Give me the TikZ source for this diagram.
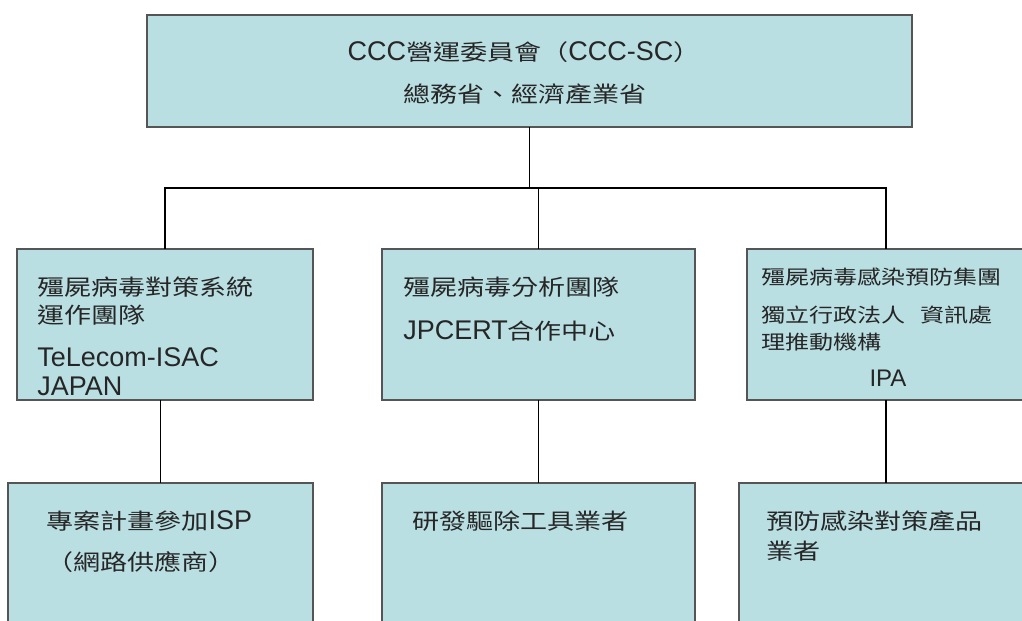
\documentclass[tikz,border=0pt]{standalone}
\usepackage{fontspec}
\setmainfont{Liberation Sans}
\newfontfamily\zhfont{Noto Sans CJK TC}[Scale=0.815,FakeStretch=1.23]
\newcommand{\zh}[1]{{\zhfont #1}}
\definecolor{orgfill}{RGB}{186,223,227}
\definecolor{orgedge}{RGB}{85,85,85}
\tikzset{
	orgbox/.style 2 args={draw=orgedge, line width=1.1pt, fill=orgfill, anchor=north west,
		inner sep=0pt, outer sep=0pt, minimum width=#1*0.75pt, minimum height=#2*0.75pt},
	link/.style={line width=0.8pt},
	txt/.style={anchor=west, inner sep=0pt, text=black!85, font=\fontsize{20.25}{24}\selectfont},
	smalltxt/.style={txt, font=\fontsize{18}{21}\selectfont}
}
\begin{document}
\begin{tikzpicture}[x=0.75pt,y=-0.75pt]
		\useasboundingbox (0,0) rectangle (1022,621);
		\clip (0,0) rectangle (1022,621);
		% boxes
		\node[orgbox={765}{112}] (sc) at (147,15) {};
		\node[orgbox={296}{151}] (bot) at (17,249) {};
		\node[orgbox={313}{151}] (ana) at (382,249) {};
		\node[orgbox={278}{151}] (ipa) at (747,249) {};
		\node[orgbox={305}{200}] (isp) at (8,483) {};
		\node[orgbox={313}{200}] (tool) at (382,483) {};
		\node[orgbox={294}{200}] (vendor) at (739,483) {};
		% connectors
		\coordinate (bus) at (0,188);
		\draw[link] (sc.south) -- (sc.south |- bus);
		\draw[link] (bot.north) -- (bot.north |- bus) -- (ipa.north |- bus) -- (ipa.north);
		\draw[link] (ana.north) -- (ana.north |- bus);
		\draw[link] (isp.north) -- (isp.north |- bot.south);
		\draw[link] (tool.north) -- (tool.north |- ana.south);
		\draw[link] (vendor.north) -- (vendor.north |- ipa.south);
		% texts
		\node[txt, anchor=center] (sc1) at (524,52) {CCC\zh{營運委員會（}CCC-SC\zh{）}};
		\node[txt, anchor=center] (sc2) at (525,94) {\zh{總務省、經濟產業省}};
		\node[txt] (bot1) at (37,287) {\zh{殭屍病毒對策系統}};
		\node[txt] (bot2) at (37,315) {\zh{運作團隊}};
		\node[txt] (bot3) at (37,357) {TeLecom-ISAC};
		\node[txt] (bot4) at (37,386) {JAPAN};
		\node[txt] (ana1) at (403,287) {\zh{殭屍病毒分析團隊}};
		\node[txt] (ana2) at (403,331) {JPCERT\zh{合作中心}};
		\node[smalltxt] (ipa1) at (761,277) {\zh{殭屍病毒感染預防集團}};
		\node[smalltxt] (ipa2) at (761,315) {\zh{獨立行政法人}\hspace{0.6em}\zh{資訊處}};
		\node[smalltxt] (ipa3) at (761,342) {\zh{理推動機構}};
		\node[smalltxt, anchor=center] (ipa4) at (888,378) {IPA};
		\node[txt] (isp1) at (46,521) {\zh{專案計畫參加}ISP};
		\node[txt] (isp2) at (46,562) {\zh{（網路供應商）}};
		\node[txt] (tool1) at (412,521) {\zh{研發驅除工具業者}};
		\node[txt] (vendor1) at (766,521) {\zh{預防感染對策產品}};
		\node[txt] (vendor2) at (766,551) {\zh{業者}};
	\end{tikzpicture}
\end{document}
